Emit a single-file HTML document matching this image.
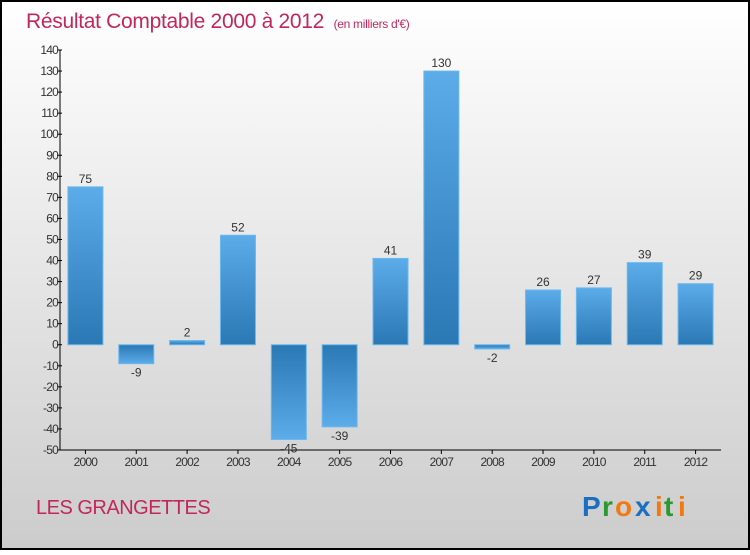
<!DOCTYPE html>
<html><head><meta charset="utf-8"><style>
body{margin:0;width:750px;height:550px;overflow:hidden;font-family:"Liberation Sans",sans-serif}
</style></head><body>
<svg width="750" height="550" xmlns="http://www.w3.org/2000/svg">
<defs>
<linearGradient id="bg" x1="0" y1="0" x2="0" y2="1"><stop offset="0" stop-color="#ffffff"/><stop offset="1" stop-color="#cccccc"/></linearGradient>
<linearGradient id="pos" x1="0" y1="0" x2="0" y2="1"><stop offset="0" stop-color="#5cacea"/><stop offset="1" stop-color="#2a78b4"/></linearGradient>
<linearGradient id="neg" x1="0" y1="0" x2="0" y2="1"><stop offset="0" stop-color="#2a78b4"/><stop offset="1" stop-color="#5cacea"/></linearGradient>
</defs>
<rect x="1" y="1" width="748" height="548" fill="url(#bg)" stroke="#000" stroke-width="2"/>
<text x="26" y="28" font-size="21" fill="#c0285a" letter-spacing="-0.3">Résultat Comptable 2000 à 2012 <tspan font-size="12" dx="4">(en milliers d'€)</tspan></text>
<g id="plot"></g>
<text x="36" y="514" font-size="20" fill="#c0285a" letter-spacing="-0.5">LES GRANGETTES</text>
<g font-size="28" font-weight="bold" font-family="'Liberation Sans',sans-serif">
<text x="582" y="516" fill="#1a6fc0">P</text><text x="602" y="516" fill="#2a9a30">r</text><text x="615" y="516" fill="#f07a10">o</text><text x="635" y="516" fill="#1a6fc0">x</text><text x="655" y="516" fill="#f07a10">i</text><text x="664" y="516" fill="#2a9a30">t</text><text x="678" y="516" fill="#f07a10">i</text>
</g>
</svg>
<script>
const categories=["2000","2001","2002","2003","2004","2005","2006","2007","2008","2009","2010","2011","2012"];
const values=[75,-9,2,52,-45,-39,41,130,-2,26,27,39,29];
const yTicks=[140,130,120,110,100,90,80,70,60,50,40,30,20,10,0,-10,-20,-30,-40,-50];
const ns="http://www.w3.org/2000/svg";
const g=document.getElementById('plot');
const x0=60,x1=721,yTop=50,yBot=450,vMax=140,vMin=-50;
const y=v=>yBot-(v-vMin)/(vMax-vMin)*(yBot-yTop);
const slot=(x1-x0)/categories.length;
const xc=i=>x0+slot*(i+0.5);
function el(t,a){const e=document.createElementNS(ns,t);for(const k in a)e.setAttribute(k,a[k]);g.appendChild(e);return e;}
let e=el('line',{x1:x0,y1:yTop,x2:x0,y2:yBot,stroke:'#000'});


e=el('line',{x1:x0,y1:yBot,x2:x1,y2:yBot,stroke:'#000'});


yTicks.forEach(t=>{
 const yy=y(t);
 let l=el('line',{x1:x0-3,y1:yy,x2:x0+2,y2:yy,stroke:'#000'});
 
 
 let tx=el('text',{x:x0-2,y:yy+4,'font-size':12,'text-anchor':'end',fill:'#333','letter-spacing':'-0.8'});
 tx.textContent=t;
 
 
});
categories.forEach((c,i)=>{
 const cx=xc(i),v=values[i];
 let l=el('line',{x1:cx,y1:yBot,x2:cx,y2:yBot+4,stroke:'#000'});
 
 
 let tx=el('text',{x:cx,y:yBot+16,'font-size':12,'text-anchor':'middle',fill:'#333','letter-spacing':'-0.8'});
 tx.textContent=c;
 
 
 const top=Math.min(y(v),y(0)),h=Math.abs(y(v)-y(0));
 let r=el('rect',{x:cx-17.5,y:top,width:35,height:Math.max(h,1),fill:v>=0?'url(#pos)':'url(#neg)',stroke:'#6bb8ee','stroke-width':1});
 
 
 let lb=el('text',{x:cx,y:v>=0?y(v)-4:y(v)+13,'font-size':12,'text-anchor':'middle',fill:'#333'});
 lb.textContent=v;
 
 
});
</script>
</body></html>
